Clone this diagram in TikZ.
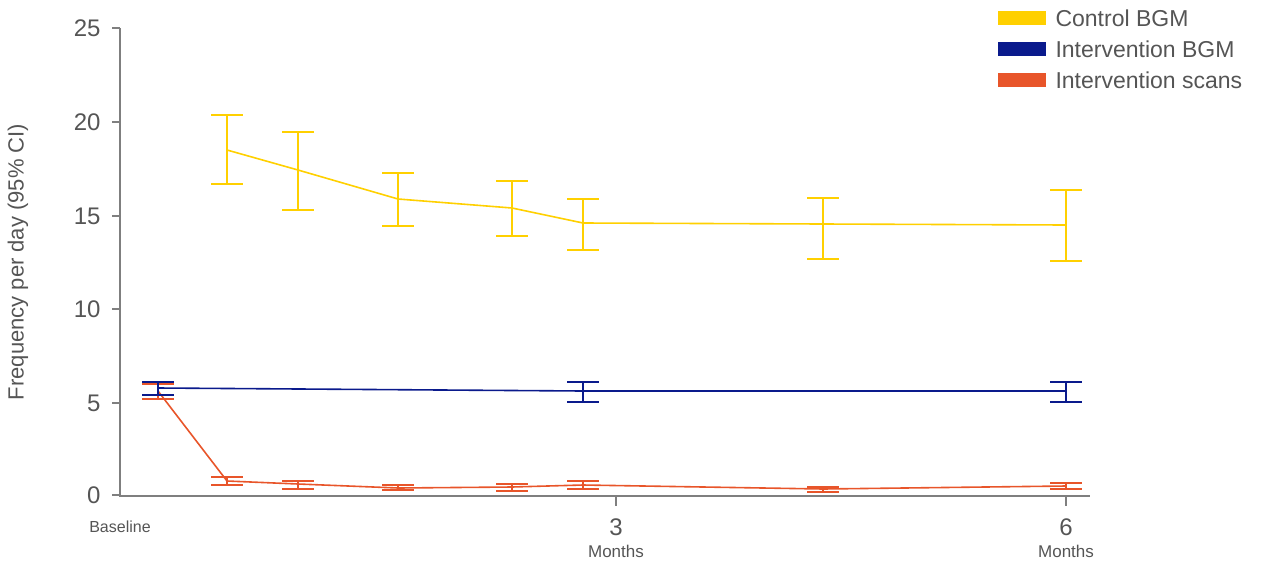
\documentclass[tikz,border=0pt]{standalone}
\usepackage{fontspec}
\setmainfont{Liberation Sans}
\definecolor{ctl}{HTML}{FFD000}
\definecolor{ibgm}{HTML}{0A1A8C}
\definecolor{scan}{HTML}{E8552A}
\definecolor{ax}{HTML}{7F7F7F}
\definecolor{tx}{HTML}{555555}
\begin{document}
\begin{tikzpicture}[x=1pt,y=-1pt,
  axis/.style={ax,line width=2.5pt},
  ser/.style={line width=1.6pt,line join=round},
  eb/.style={line width=1.2pt},
  lbl/.style={text=tx,font=\fontsize{24}{24}\selectfont},
  leg/.style={text=tx,font=\fontsize{23}{23}\selectfont,anchor=west}]
\useasboundingbox (0,0) rectangle (1280,563);
% axes
\draw[axis] (120,28) -- (120,496) -- (1090,496);
\foreach \v/\y in {25/28,20/122,15/216,10/309,5/403,0/495}{
  \draw[axis] (112,\y) -- (120,\y);
  \node[lbl,anchor=east] at (104,\y) {\v};}
\draw[axis] (616,496) -- (616,506);
\draw[axis] (1066,496) -- (1066,506);
\node[text=tx,font=\fontsize{16}{16}\selectfont] at (120,527) {Baseline};
\node[lbl] at (616,527) {3};
\node[text=tx,font=\fontsize{17}{17}\selectfont] at (616,551) {Months};
\node[lbl] at (1066,527) {6};
\node[text=tx,font=\fontsize{17}{17}\selectfont] at (1066,551) {Months};
\node[text=tx,font=\fontsize{22}{22}\selectfont,rotate=90] at (18,262) {Frequency per day (95\% CI)};
% error bar macro
\newcommand\ebar[4]{\draw[eb,#1] (#2,#3) -- (#2,#4) (#2-16,#3) -- (#2+16,#3) (#2-16,#4) -- (#2+16,#4);}
% control
\foreach \x/\a/\b in {227/115/184,298/132/210,398/173/226,512/181/236,583/199/250,823/198/259,1066/190/261}{\ebar{ctl}{\x}{\a}{\b}}
\draw[ser,ctl] (227,150) -- (298,170) -- (398,199) -- (512,208) -- (583,223) -- (823,224) -- (1066,225);
% scans
\foreach \x/\a/\b in {158/384/399,227/477/485,298/481/489,398/485/490,512/484/491,583/481/489,823/487/492,1066/483/489}{\ebar{scan}{\x}{\a}{\b}}
\draw[ser,scan] (158,391) -- (227,481) -- (298,484) -- (398,488) -- (512,487) -- (583,485) -- (823,489) -- (1066,486);
% intervention BGM
\foreach \x/\a/\b in {158/382/395,583/382/402,1066/382/402}{\ebar{ibgm}{\x}{\a}{\b}}
\draw[ser,ibgm] (158,388) -- (583,391) -- (1066,391);
% legend
\fill[ctl] (998,11) rectangle (1046,25);
\node[leg] at (1052,18) {Control BGM};
\fill[ibgm] (998,42) rectangle (1046,56);
\node[leg] at (1052,49) {Intervention BGM};
\fill[scan] (998,73) rectangle (1046,87);
\node[leg] at (1052,80) {Intervention scans};
\end{tikzpicture}
\end{document}
